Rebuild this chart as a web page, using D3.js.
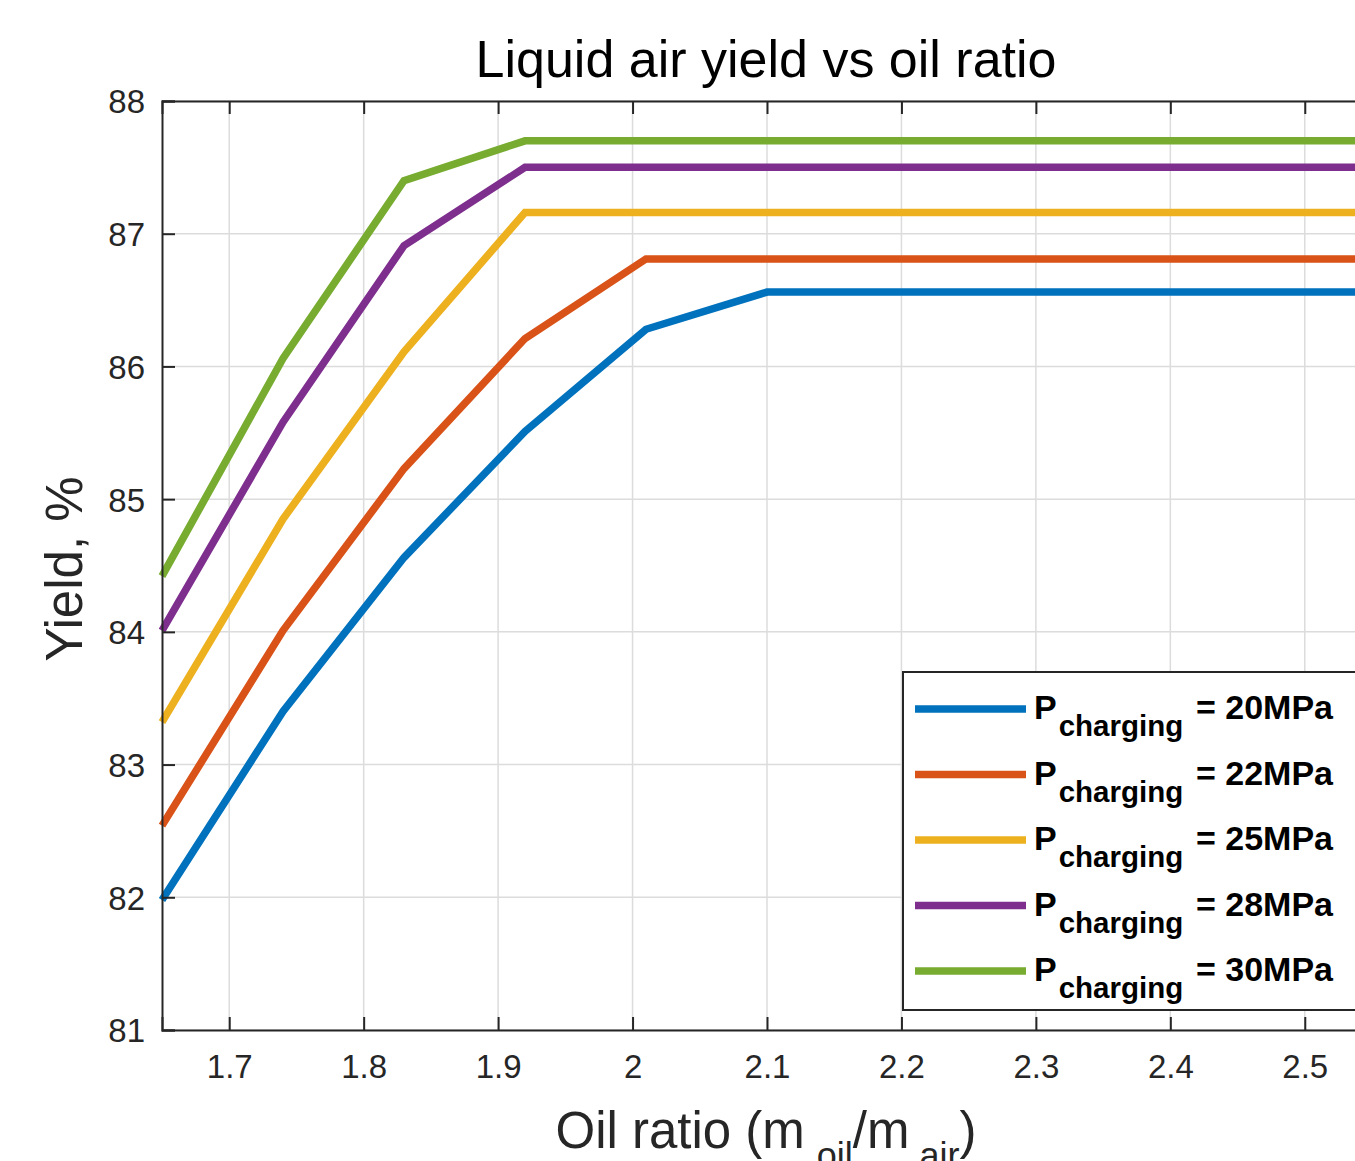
<!DOCTYPE html>
<html>
<head>
<meta charset="utf-8">
<script src="https://cdn.jsdelivr.net/npm/d3@7"></script>
<style>
  body { margin: 0; background: #fff; overflow: hidden; }
  svg { display: block; font-family: "Liberation Sans", Arial, sans-serif; }
</style>
</head>
<body>
<svg width="1355" height="1161"></svg>
<script>
var oilRatio = [1.65, 1.74, 1.83, 1.92, 2.01, 2.10, 2.19, 2.28, 2.37, 2.46, 2.55];
var yield20 = [81.98, 83.40, 84.56, 85.51, 86.28, 86.56, 86.56, 86.56, 86.56, 86.56, 86.56];
var yield22 = [82.54, 84.01, 85.23, 86.21, 86.81, 86.81, 86.81, 86.81, 86.81, 86.81, 86.81];
var yield25 = [83.32, 84.85, 86.11, 87.16, 87.16, 87.16, 87.16, 87.16, 87.16, 87.16, 87.16];
var yield28 = [84.01, 85.58, 86.91, 87.50, 87.50, 87.50, 87.50, 87.50, 87.50, 87.50, 87.50];
var yield30 = [84.42, 86.06, 87.40, 87.70, 87.70, 87.70, 87.70, 87.70, 87.70, 87.70, 87.70];
var pressures = ["20MPa", "22MPa", "25MPa", "28MPa", "30MPa"];
var colors = ["#0072BD", "#D95319", "#EDB120", "#7E2F8E", "#77AC30"];
var xTicks = [1.7, 1.8, 1.9, 2.0, 2.1, 2.2, 2.3, 2.4, 2.5];
var yTicks = [81, 82, 83, 84, 85, 86, 87, 88];

var series = [yield20, yield22, yield25, yield28, yield30];

var svg = d3.select("svg");
var margin = { top: 101, left: 162 };
var plotW = 1210, plotH = 929;

var x = d3.scaleLinear().domain([1.65, 2.55]).range([margin.left, margin.left + plotW]);
var y = d3.scaleLinear().domain([81, 88]).range([margin.top + plotH, margin.top]);

// grid
svg.append("g").selectAll("line.gx")
  .data(xTicks).enter().append("line")
  .attr("x1", d => x(d)).attr("x2", d => x(d))
  .attr("y1", y(81)).attr("y2", y(88))
  .attr("stroke", "#dcdcdc").attr("stroke-width", 1.5);
svg.append("g").selectAll("line.gy")
  .data(yTicks).enter().append("line")
  .attr("x1", x(1.65)).attr("x2", x(2.55))
  .attr("y1", d => y(d)).attr("y2", d => y(d))
  .attr("stroke", "#dcdcdc").attr("stroke-width", 1.5);

// lines
var line = d3.line().x((d, i) => x(oilRatio[i])).y(d => y(d));
svg.append("g").selectAll("path")
  .data(series).enter().append("path")
  .attr("d", line)
  .attr("fill", "none")
  .attr("stroke", (d, i) => colors[i])
  .attr("stroke-width", 7.5);

// axes (ticks inward)
var fmt = d => d3.format("~g")(d);
var axBottom = svg.append("g").attr("transform", `translate(0,${y(81)})`)
  .call(d3.axisBottom(x).tickValues(xTicks).tickSize(-13).tickPadding(25).tickFormat(fmt));
var axTop = svg.append("g").attr("transform", `translate(0,${y(88)})`)
  .call(d3.axisTop(x).tickValues(xTicks).tickSize(-13).tickFormat(""));
var axLeft = svg.append("g").attr("transform", `translate(${x(1.65)},0)`)
  .call(d3.axisLeft(y).tickValues(yTicks).tickSize(-13).tickPadding(17).tickFormat(fmt));
[axBottom, axTop, axLeft].forEach(function(g) {
  g.select(".domain").attr("stroke", "#262626").attr("stroke-width", 2);
  g.selectAll(".tick line").attr("stroke", "#262626").attr("stroke-width", 2);
  g.selectAll(".tick text").attr("fill", "#262626")
    .style("font-size", "33px").style("font-family", "Liberation Sans, Arial, sans-serif");
});
axLeft.selectAll(".tick text").attr("dy", "0.36em");

// title
svg.append("text")
  .attr("x", 766).attr("y", 77)
  .attr("text-anchor", "middle")
  .attr("fill", "#000")
  .style("font-size", "52px")
  .text("Liquid air yield vs oil ratio");

// y label
svg.append("text")
  .attr("transform", "translate(82,569) rotate(-90)")
  .attr("text-anchor", "middle")
  .attr("fill", "#262626")
  .style("font-size", "51px")
  .text("Yield, %");

// x label
var xl = svg.append("text")
  .attr("x", 766).attr("y", 1148)
  .attr("text-anchor", "middle")
  .attr("fill", "#262626")
  .style("font-size", "51px");
xl.append("tspan").text("Oil ratio (m");
xl.append("tspan").attr("dx", 12).attr("dy", 20).style("font-size", "36px").text("oil");
xl.append("tspan").attr("dy", -20).text("/m");
xl.append("tspan").attr("dx", 10).attr("dy", 20).style("font-size", "36px").text("air");
xl.append("tspan").attr("dy", -20).text(")");

// legend
var lg = svg.append("g");
lg.append("rect")
  .attr("x", 903).attr("y", 672).attr("width", 470).attr("height", 338)
  .attr("fill", "#fff").attr("stroke", "#262626").attr("stroke-width", 2);
var items = lg.selectAll("g.item").data(pressures).enter().append("g")
  .attr("transform", (d, i) => `translate(0,${709 + i * 65.5})`);
items.append("line")
  .attr("x1", 915).attr("x2", 1026).attr("y1", 0).attr("y2", 0)
  .attr("stroke", (d, i) => colors[i]).attr("stroke-width", 7.5);
var t = items.append("text")
  .attr("x", 1034).attr("y", 10)
  .attr("fill", "#000")
  .style("font-weight", "bold")
  .style("font-size", "34px");
t.append("tspan").text("P");
t.append("tspan").attr("dx", 2).attr("dy", 17).style("font-size", "29.5px").text("charging");
t.append("tspan").attr("x", 1196).attr("dy", -17).text(d => "= " + d);
</script>
</body>
</html>
